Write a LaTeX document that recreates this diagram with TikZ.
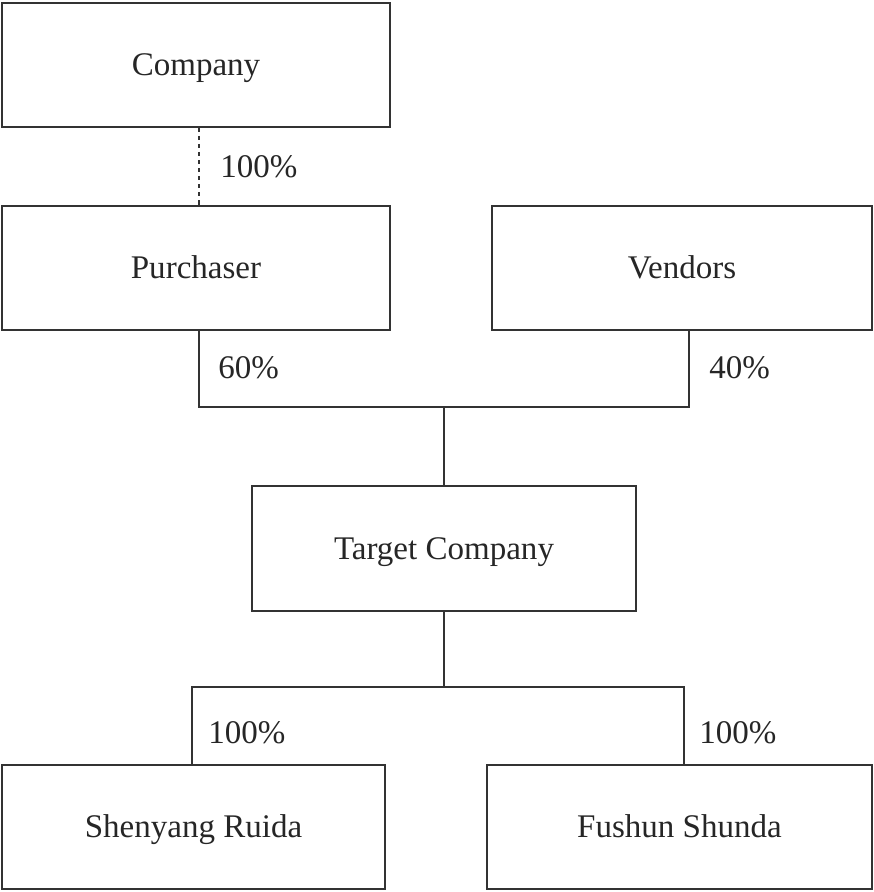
\documentclass[tikz,border=0pt]{standalone}
\usepackage{fontspec}
\setmainfont{Liberation Serif}
\usepackage{tikz}
\usetikzlibrary{positioning,calc}

\begin{document}
\begin{tikzpicture}[x=0.02cm, y=-0.02cm,
    every node/.style={font=\fontsize{18.8}{22}\selectfont, text=black!85},
    entity/.style={draw=black!80, line width=0.85pt, minimum height=2.48cm, inner sep=0pt,
        text height=12.4pt, text depth=0pt},
    link/.style={draw=black!80, line width=0.85pt},
    share/.style={anchor=west, inner sep=0pt, text height=12.4pt, text depth=0pt}]
    \useasboundingbox (0,0) rectangle (874,892);

    % Boxes
    \node [entity, minimum width=7.76cm] (comp) at (196,65) {Company};
    \node [entity, minimum width=7.76cm] (pur) at (196,268) {Purchaser};
    \node [entity, minimum width=7.6cm] (ven) at (682,268) {Vendors};
    \node [entity, minimum width=7.68cm, minimum height=2.5cm] (tgt) at (444,548.5) {Target Company};
    \node [entity, minimum width=7.66cm] (shen) at (193.5,827) {Shenyang Ruida};
    \node [entity, minimum width=7.7cm] (fus) at (679.5,827) {Fushun Shunda};

    % Junctions
    \coordinate (top) at (444,407);
    \coordinate (bot) at (444,687);

    % Lines
    \draw [link, dash pattern=on 2.3pt off 2.3pt] ($(comp.south)+(3,0)$) -- ($(pur.north)+(3,0)$);
    \draw [link] ($(pur.south)+(3,0)$) |- (top) -| ($(ven.south)+(7,0)$);
    \draw [link] (top) -- (tgt.north);
    \draw [link] (tgt.south) -- (bot);
    \draw [link] ($(shen.north)+(-1.5,0)$) |- (bot) -| ($(fus.north)+(4.5,0)$);

    % Shares
    \node [share] (s1) at (220,166.5) {100\%};
    \node [share] (s2) at (218,368) {60\%};
    \node [share] (s3) at (709,368) {40\%};
    \node [share] (s4) at (208,733) {100\%};
    \node [share] (s5) at (699,733) {100\%};
\end{tikzpicture}
\end{document}
